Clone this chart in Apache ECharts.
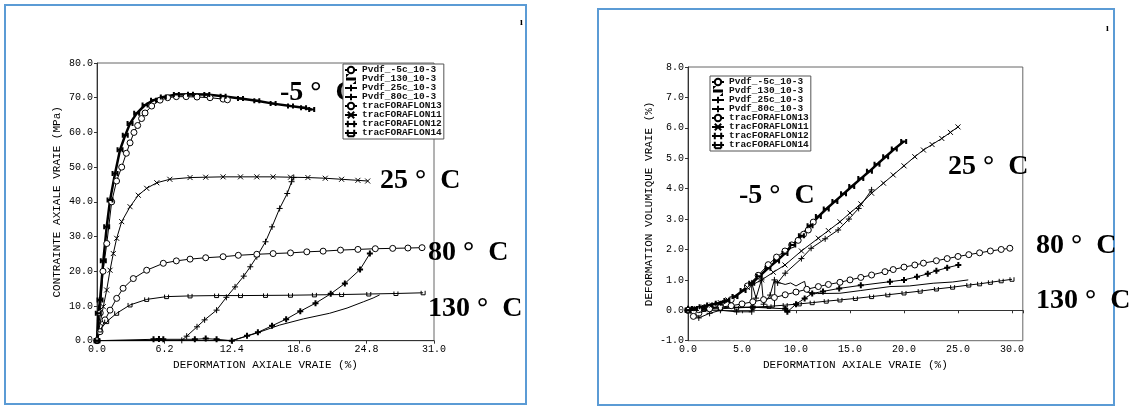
<!DOCTYPE html>
<html><head><meta charset="utf-8">
<script src="https://cdn.jsdelivr.net/npm/echarts@6/dist/echarts.min.js"></script>
<style>html,body{margin:0;padding:0;background:#fff}#c{width:1130px;height:406px}</style>
</head><body><div id="c"></div>
<script>
// ---- legend / series names ----
const seriesNames = ['Pvdf_-5c_10-3','Pvdf_130_10-3','Pvdf_25c_10-3','Pvdf_80c_10-3','tracFORAFLON13','tracFORAFLON11','tracFORAFLON12','tracFORAFLON14'];

// ---- tick values ----
const leftXTicks = [0, 6.2, 12.4, 18.6, 24.8, 31.0];
const leftYTicks = [0, 10, 20, 30, 40, 50, 60, 70, 80];
const rightXTicks = [0, 5, 10, 15, 20, 25, 30];
const rightXMax = 31;
const rightYTicks = [-1, 0, 1, 2, 3, 4, 5, 6, 7, 8];

// ---- axis titles and annotations ----
const leftXTitle = 'DEFORMATION AXIALE VRAIE (%)';
const leftYTitle = 'CONTRAINTE AXIALE VRAIE (MPa)';
const rightXTitle = 'DEFORMATION AXIALE VRAIE (%)';
const rightYTitle = 'DEFORMATION VOLUMIQUE VRAIE (%)';
const tempLabels = ['-5 °  C', '25 °  C', '80 °  C', '130 °  C'];

// ---- LEFT chart: stress vs axial strain ----
const L_Pvdf_m5c = [[0,0],[0.3,8],[0.55,20],[0.9,28],[1.35,40],[1.8,46],[2.27,50],[2.7,54],[3.04,57],[3.4,60],[3.74,62],[4.1,64],[4.42,65.6],[5.03,67.6],[5.8,69.3],[6.5,70],[7.3,70.3],[8.2,70.3],[9.2,70.2],[10.4,70],[11.6,69.6],[12.0,69.4]];
const L_Pvdf_130 = [[0,0],[12.4,0],[14.5,2.0],[16.8,4.5],[19,6.3],[21.4,7.9],[23,9.4],[24.5,11.2],[25.4,12.3],[26,13.2]];
const L_Pvdf_25c = [[0,0],[7.8,0.1],[8.25,1.3],[9.2,4],[9.9,6],[11,8.8],[11.9,12.5],[12.7,15.5],[13.5,18.6],[14.1,21.3],[14.7,24.2],[15.5,28.5],[16.1,32.8],[16.8,38.1],[17.5,42.4],[17.9,45.8],[18.1,47]];
const L_Pvdf_80c = [[0,0],[5.2,0.4],[5.7,0.5],[6.1,0.4],[9.0,0.4],[10,0.6],[11,0.4],[12.4,0],[13.8,1.4],[14.8,2.4],[16.1,4.3],[17.4,6.2],[18.7,8.5],[20.1,10.8],[21.5,13.5],[22.8,16.5],[24.2,20.5],[25.1,25.1]];
const L_trac13 = [[0,0],[0.28,2.6],[0.74,6],[1.2,8.8],[1.81,12.2],[2.4,15.1],[3.34,17.9],[4.57,20.3],[6.1,22.3],[7.3,23],[8.56,23.5],[10,23.9],[11.6,24.2],[13,24.6],[14.7,24.9],[16.2,25.1],[17.8,25.3],[19.3,25.6],[20.8,25.8],[22.4,26.1],[24,26.3],[25.6,26.5],[27.2,26.6],[28.6,26.7],[29.9,26.8]];
const L_trac11 = [[0,0],[0.28,5],[0.58,9.8],[0.89,14.6],[1.2,20.3],[1.5,25.1],[1.81,29.5],[2.27,34.3],[3.04,38.6],[3.8,41.9],[4.57,43.9],[5.5,45.5],[6.7,46.5],[8.56,47],[10,47.1],[11.6,47.2],[13.2,47.2],[14.7,47.2],[16.2,47.2],[17.8,47.1],[19.4,47],[21,46.8],[22.5,46.5],[24,46.2],[24.9,46.0]];
const L_trac12 = [[0,0],[0.12,7.9],[0.28,11.7],[0.58,23],[0.89,32.8],[1.2,40.5],[1.66,48.2],[2.12,55],[2.6,59.2],[3.04,62.6],[3.65,65.5],[4.42,67.9],[5.2,69.3],[6.1,70.2],[7.3,70.9],[8.6,71],[10.1,70.9],[11.6,70.4],[13.2,69.8],[14.7,69.1],[16.2,68.3],[17.8,67.6],[19,67.1],[19.75,66.6]];
const L_trac14 = [[0,0],[0.28,3.1],[0.89,5.5],[1.81,7.9],[3.04,10.3],[4.57,11.9],[6.4,12.7],[8.56,12.9],[11,13],[13.2,13],[15.5,13.05],[17.8,13.1],[20,13.2],[22.5,13.3],[25,13.45],[27.5,13.6],[30,13.8]];

// ---- RIGHT chart: volumetric strain vs axial strain ----
const R_Pvdf_m5c = [[0,0],[0.5,-0.2],[1,-0.1],[2,0.05],[3,0.15],[4,0.35],[5.5,0.8],[6.5,1.15],[7.43,1.5],[8.2,1.75],[8.98,1.95],[9.6,2.15],[10.2,2.3],[10.7,2.5],[11.14,2.64],[11.6,2.9]];
const R_Pvdf_130 = [[0,0.1],[3,0.1],[6,0.1],[8,0.1],[8.05,0.95],[8.5,0.9],[9,0.85],[9.5,0.9],[10,0.8],[10.5,0.9],[10.8,0.95],[11,0.6],[12,0.55],[14.07,0.56],[16,0.65],[18.7,0.78],[20.5,0.8],[22.7,0.89],[24.5,0.93],[25.95,1.0]];
const R_Pvdf_25c = [[0,0],[1,-0.25],[2,-0.1],[3,0.0],[4.5,-0.05],[5.9,-0.05],[5.9,0.9],[6.3,0.4],[6.8,1.0],[7.0,0.2],[7.6,0.5],[8.0,1.0],[8.3,0.9],[9.0,1.22],[10.5,1.7],[11.4,2.04],[12.7,2.35],[13.9,2.64],[14.9,3.0],[15.8,3.35],[17.0,3.96]];
const R_Pvdf_80c = [[0,0.05],[3,0.08],[6,0.1],[9,0.05],[9.2,-0.05],[10,0.2],[10.8,0.39],[11.5,0.55],[12.5,0.62],[14,0.72],[16,0.82],[18.7,0.94],[20,1.0],[21.2,1.1],[22.2,1.2],[23,1.3],[24,1.4],[25.03,1.49]];
const R_trac13 = [[0,0],[1,0.02],[2,0.05],[3,0.1],[4,0.15],[5,0.21],[6,0.28],[7,0.35],[8,0.42],[9,0.51],[10,0.6],[11,0.69],[12.07,0.78],[13,0.85],[14.07,0.92],[15,1.0],[16,1.08],[17,1.16],[18.24,1.27],[19,1.34],[20,1.42],[21,1.49],[21.8,1.55],[23,1.63],[24,1.7],[25,1.77],[26,1.83],[27,1.89],[28,1.95],[29,2.0],[29.8,2.04]];
const R_trac11 = [[0,0],[0.8,0.05],[1.5,0.1],[2.2,0.17],[3,0.25],[3.7,0.34],[4.35,0.45],[5.5,0.75],[6.82,1.0],[7.9,1.25],[8.98,1.49],[10.5,1.95],[12.07,2.37],[13,2.62],[14.07,2.91],[15,3.2],[16,3.5],[17,3.85],[18.1,4.18],[19,4.45],[20,4.75],[21,5.05],[21.8,5.27],[22.6,5.45],[23.5,5.65],[24.3,5.85],[25,6.03]];
const R_trac12 = [[0,0],[0.6,0.06],[1.3,0.12],[2,0.17],[2.8,0.23],[3.6,0.32],[4.35,0.45],[5.1,0.65],[5.9,0.89],[6.6,1.12],[7.4,1.38],[8.2,1.62],[8.98,1.87],[9.7,2.15],[10.5,2.45],[11.3,2.78],[12.07,3.08],[12.8,3.33],[13.6,3.58],[14.4,3.83],[15.16,4.07],[16,4.33],[16.8,4.57],[17.5,4.8],[18.3,5.05],[19.1,5.3],[19.97,5.55]];
const R_trac14 = [[0,0],[1.5,0.03],[3,0.05],[4.5,0.08],[6,0.1],[7.5,0.13],[9,0.17],[10.3,0.21],[11.5,0.25],[12.8,0.3],[14.07,0.34],[15.5,0.39],[17,0.45],[18.5,0.51],[20,0.57],[21.5,0.63],[23,0.7],[24.5,0.76],[26,0.83],[27,0.87],[28,0.92],[29,0.97],[30,1.02]];

const leftData = [L_Pvdf_m5c, L_Pvdf_130, L_Pvdf_25c, L_Pvdf_80c, L_trac13, L_trac11, L_trac12, L_trac14];
const rightData = [R_Pvdf_m5c, R_Pvdf_130, R_Pvdf_25c, R_Pvdf_80c, R_trac13, R_trac11, R_trac12, R_trac14];

// ---- styles (per series name index) ----
const CIRCLE = 'path://M10,5A5,5,0,1,1,0,5A5,5,0,1,1,10,5Z';
const PLUS = 'path://M0,5L10,5M5,0L5,10';
const CROSS = 'path://M0,0L10,10M10,0L0,10';
const HBAR = 'path://M0,0L0,10M10,0L10,10M0,5L10,5';
const UTICK = 'path://M0,0L0,10M10,0L10,10M0,10L10,10';
const DASH = 'path://M0,0L0.01,0L0,0.01Z M0,4.4L10,4.4L10,5.6L0,5.6Z M9.99,10L10,10L10,9.99Z';
const styleFor = [
  {symbol: CIRCLE, size: 6, fill: '#fff', bw: 1, lw: 1},
  {symbol: 'none', size: 0, fill: '#000', bw: 1, lw: 1},
  {symbol: PLUS, size: 6, fill: '#000', bw: 1, lw: 1},
  {symbol: PLUS, size: 6, fill: '#000', bw: 2, lw: 1},
  {symbol: CIRCLE, size: 6, fill: '#fff', bw: 1, lw: 1},
  {symbol: CROSS, size: 5, fill: '#000', bw: 1, lw: 1},
  {symbol: HBAR, size: 5, fill: '#000', bw: 2, lw: 2.5},
  {symbol: UTICK, size: 4, fill: '#000', bw: 1, lw: 1}
];

function buildSeries(dataList, axisIndex) {
  return dataList.map((d, i) => {
    const s = styleFor[i];
    return {
      type: 'line', name: seriesNames[i], xAxisIndex: axisIndex, yAxisIndex: axisIndex,
      data: d, symbol: s.symbol, symbolSize: s.size, showSymbol: s.symbol !== 'none',
      showAllSymbol: true, animation: false, z: 3,
      lineStyle: {color: '#000', width: s.lw},
      itemStyle: {color: s.fill, borderColor: '#000', borderWidth: s.bw}
    };
  });
}

const mono = 'Liberation Mono';
const fmt1 = v => (Math.round(v * 10) / 10).toFixed(1);

function xAxis(gi, ticks, max, title, hideAbove) {
  return {
    type: 'value', gridIndex: gi, min: ticks[0], max: max, interval: ticks[1] - ticks[0],
    name: title, nameLocation: 'middle', nameGap: 11,
    nameTextStyle: {fontFamily: mono, fontSize: 11, color: '#000'},
    axisLine: {show: true, lineStyle: {color: '#333', width: 1}},
    axisTick: {show: true, inside: false, length: 3, lineStyle: {color: '#333'}},
    axisLabel: {fontFamily: mono, fontSize: 10, color: '#000', margin: 4,
      formatter: v => (v > hideAbove + 1e-6 ? '' : fmt1(v))},
    splitLine: {show: false}
  };
}
function yAxis(gi, ticks, title, gap) {
  return {
    type: 'value', gridIndex: gi, min: ticks[0], max: ticks[ticks.length - 1], interval: ticks[1] - ticks[0],
    name: title, nameLocation: 'middle', nameGap: gap, nameRotate: 90,
    nameTextStyle: {fontFamily: mono, fontSize: 11, color: '#000'},
    axisLine: {show: true, lineStyle: {color: '#333', width: 1}},
    axisTick: {show: true, inside: false, length: 3, lineStyle: {color: '#333'}},
    axisLabel: {fontFamily: mono, fontSize: 10, color: '#000', margin: 4, formatter: fmt1},
    splitLine: {show: false}
  };
}

const legendItems = seriesNames.map((n, i) => (styleFor[i].symbol === 'none' ? {name: n, icon: DASH} : {name: n}));

function legend(left, top, fs) {
  return {
    data: legendItems, orient: 'vertical', left: left, top: top, z: 10,
    itemWidth: 12, itemHeight: 8, itemGap: -1, padding: [1, 2, 1, 1],
    backgroundColor: '#fff', borderColor: '#555', borderWidth: 1, borderRadius: 0,
    selectedMode: false,
    textStyle: {fontFamily: mono, fontSize: fs, fontWeight: 'bold', color: '#111', lineHeight: 9}
  };
}

const serif = 'bold 28px "Liberation Serif"';
function label(text, x, y) {
  return {type: 'text', x: x, y: y, z: 1, style: {text: text, font: serif, fill: '#000', textVerticalAlign: 'middle', textAlign: 'left'}};
}

const chart = echarts.init(document.getElementById('c'), null, {renderer: 'canvas'});
chart.setOption({
  backgroundColor: '#fff',
  animation: false,
  grid: [
    {left: 97, top: 63, width: 337, height: 277.7, show: true, borderColor: '#666', borderWidth: 1, containLabel: false},
    {left: 688, top: 67, width: 334.8, height: 273.7, show: true, borderColor: '#666', borderWidth: 1, containLabel: false}
  ],
  xAxis: [
    xAxis(0, leftXTicks, leftXTicks[leftXTicks.length - 1], leftXTitle, 31),
    xAxis(1, rightXTicks, rightXMax, rightXTitle, rightXTicks[rightXTicks.length - 1])
  ],
  yAxis: [
    yAxis(0, leftYTicks, leftYTitle, 34),
    yAxis(1, rightYTicks, rightYTitle, 33)
  ],
  legend: [legend(343, 64, 9.5), legend(710, 76, 9.5)],
  series: buildSeries(leftData, 0).concat(buildSeries(rightData, 1)),
  graphic: [
    {type: 'rect', z: 0, shape: {x: 5, y: 5, width: 521, height: 399}, style: {fill: 'none', stroke: '#5b9bd5', lineWidth: 2}},
    {type: 'rect', z: 0, shape: {x: 598, y: 9, width: 516, height: 396}, style: {fill: 'none', stroke: '#5b9bd5', lineWidth: 2}},
    {type: 'text', x: 520, y: 17, z: 1, style: {text: 'ı', font: 'bold 10px "Liberation Serif"', fill: '#000'}},
    {type: 'text', x: 1106, y: 23, z: 1, style: {text: 'ı', font: 'bold 10px "Liberation Serif"', fill: '#000'}},
    label(tempLabels[0], 280, 93),
    label(tempLabels[1], 380, 181),
    label(tempLabels[2], 428, 253),
    label(tempLabels[3], 428, 309),
    label(tempLabels[0], 739, 196),
    label(tempLabels[1], 948, 167),
    label(tempLabels[2], 1036, 246),
    label(tempLabels[3], 1036, 301)
  ]
});
</script></body></html>
